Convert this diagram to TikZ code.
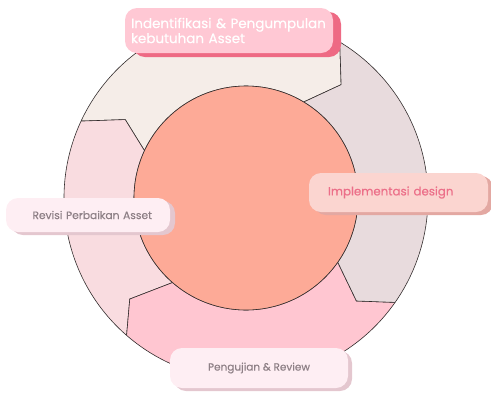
\documentclass[tikz,border=0pt]{standalone}
\usepackage{fontspec}
\setmainfont{Poppins}[FakeBold=0.4]
\usetikzlibrary{calc, shadows}
\definecolor{ringline}{RGB}{51,45,45}
\definecolor{segtop}{RGB}{245,237,232}
\definecolor{segright}{RGB}{232,219,221}
\definecolor{segbottom}{RGB}{255,198,209}
\definecolor{segleft}{RGB}{249,220,224}
\definecolor{salmon}{RGB}{253,170,151}
\definecolor{rosefill}{RGB}{255,200,212}
\definecolor{roseshade}{RGB}{238,106,132}
\definecolor{peachfill}{RGB}{251,213,208}
\definecolor{peachshade}{RGB}{227,168,162}
\definecolor{peachtext}{RGB}{236,111,137}
\definecolor{blushfill}{RGB}{254,238,243}
\definecolor{blushshade}{RGB}{228,199,207}
\definecolor{greytext}{RGB}{142,128,134}

\begin{document}
\begin{tikzpicture}[x=1pt, y=1pt,
    ring/.style={draw=ringline, line width=0.6pt, line join=round},
    tag/.style={rounded corners=12pt, inner sep=6pt, align=left},
  ]
  \useasboundingbox (0,0) rectangle (491,-392);
  \coordinate (c) at (246,-198);

  % four phases around the cycle
  \filldraw[ring, fill=segtop]
    ($(c)+(59:182)$) arc[start angle=59, end angle=155, radius=182]
    -- ($(c)+(147:144)$) -- ($(c)+(155:112)$)
    arc[start angle=155, end angle=59, radius=112]
    -- ($(c)+(50:148)$) -- cycle;
  \filldraw[ring, fill=segleft]
    ($(c)+(155:182)$) arc[start angle=155, end angle=229, radius=182]
    -- ($(c)+(221:154)$) -- ($(c)+(229:112)$)
    arc[start angle=229, end angle=155, radius=112]
    -- ($(c)+(147:144)$) -- cycle;
  \filldraw[ring, fill=segbottom]
    ($(c)+(229:182)$) arc[start angle=229, end angle=325, radius=182]
    -- ($(c)+(317:151)$) -- ($(c)+(325:112)$)
    arc[start angle=325, end angle=229, radius=112]
    -- ($(c)+(221:154)$) -- cycle;
  \filldraw[ring, fill=segright]
    ($(c)+(325:182)$) arc[start angle=325, end angle=419, radius=182]
    -- ($(c)+(410:148)$) -- ($(c)+(419:112)$)
    arc[start angle=419, end angle=325, radius=112]
    -- ($(c)+(317:151)$) -- cycle;
  \filldraw[ring, fill=salmon] (c) circle[radius=112];

  \node[tag, fill=rosefill, text=white, font=\fontsize{13.5}{15}\selectfont,
    text width=196pt, inner xsep=6pt, minimum height=45pt,
    drop shadow={shadow xshift=8pt, shadow yshift=-4pt, fill=roseshade, opacity=1}]
    (collect) at (229,-30.5) {\mbox{Indentifikasi \& Pengumpulan}\\kebutuhan Asset};
  \node[tag, fill=peachfill, text=peachtext, font=\fontsize{11.8}{13}\selectfont,
    text width=141pt, inner xsep=19pt, minimum height=39pt,
    drop shadow={shadow xshift=5pt, shadow yshift=-3pt, fill=peachshade, opacity=1}]
    (implement) at (398.5,-192.5) {Implementasi design};
  \node[tag, fill=blushfill, text=greytext, font=\fontsize{10.7}{12}\selectfont,
    text width=128pt, inner xsep=18pt, minimum height=34pt, align=right,
    drop shadow={shadow xshift=5pt, shadow yshift=-3pt, fill=blushshade, opacity=1}]
    (revise) at (88,-215) {Revisi Perbaikan Asset};
  \node[tag, fill=blushfill, text=greytext, font=\fontsize{10.5}{12}\selectfont,
    minimum width=178pt, minimum height=40pt, align=center,
    drop shadow={shadow xshift=4pt, shadow yshift=-3pt, fill=blushshade, opacity=1}]
    (review) at (259,-368) {Pengujian \& Review};
\end{tikzpicture}
\end{document}
